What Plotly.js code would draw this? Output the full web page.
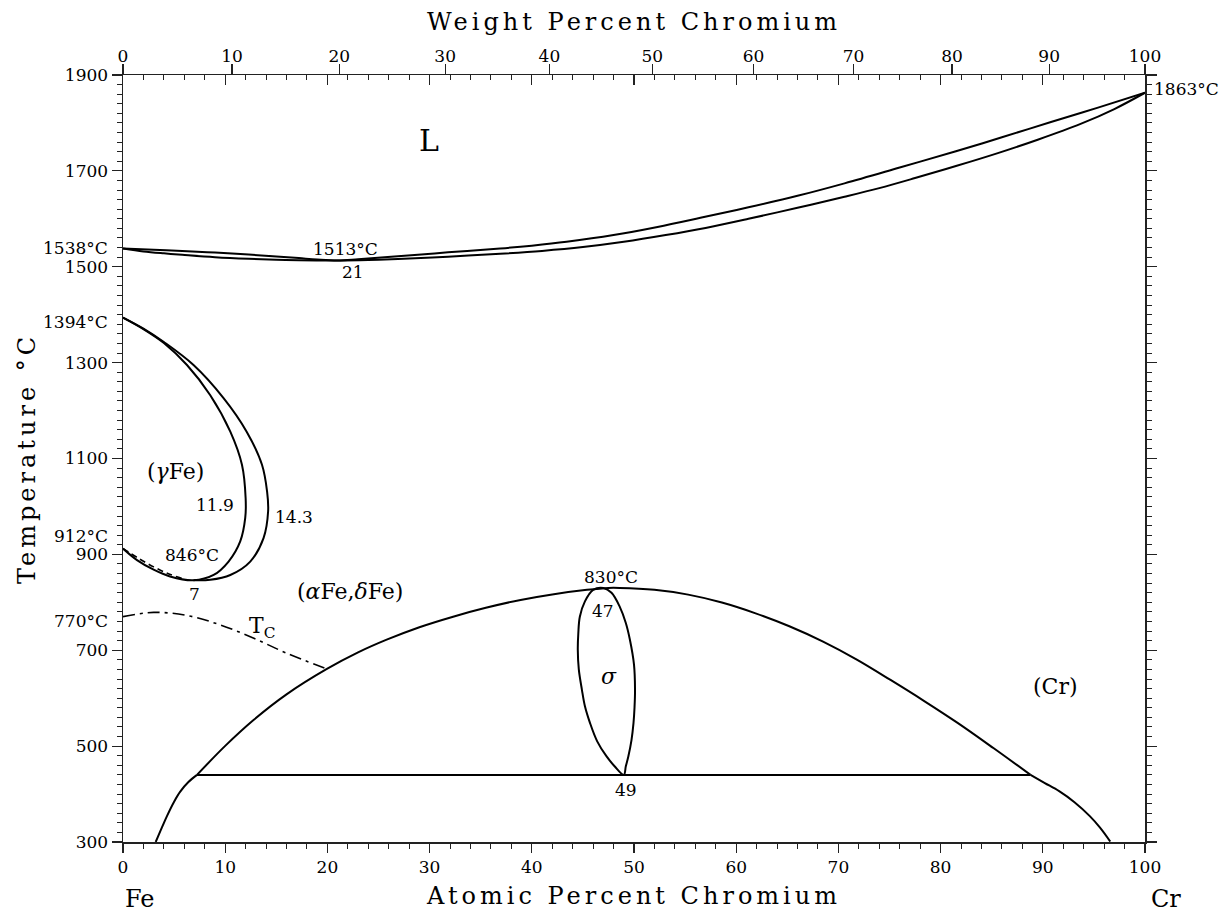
<!DOCTYPE html>
<html>
<head>
<meta charset="utf-8">
<script src="https://cdn.plot.ly/plotly-3.0.1.min.js"></script>
<style>
  html, body { margin: 0; padding: 0; background: #fff; }
  #chart { width: 1223px; height: 912px; }
  text.xtitle, text.x3title, text.ytitle { letter-spacing: 4px; }
</style>
</head>
<body>
<div id="chart"></div>
<script>
// ---- Data (atomic % Cr, temperature °C) ----
const liquidusX = [0, 3, 5.8, 9, 12.3, 15, 17.2, 19, 21, 23, 26.9, 31.8, 36.9, 40, 43.4, 48, 52.3, 56.5, 61.2, 66, 70.6, 76, 81.5, 86, 90.8, 95.4, 100];
const liquidusT = [1538, 1535.5, 1533, 1529.5, 1525.5, 1521.5, 1518, 1515, 1513, 1515.5, 1522, 1530, 1538, 1544, 1552, 1566, 1583, 1602, 1624, 1648, 1674, 1707, 1741, 1770, 1802, 1832, 1863];
const solidusX = [0, 2, 4, 5.8, 9, 12.3, 15, 17.2, 21, 24, 26.9, 31.8, 36.9, 41, 45, 49, 53.1, 57, 61.2, 66, 70.6, 74, 77.5, 81.5, 85.6, 89.5, 93.7, 97, 100];
const solidusT = [1538, 1532, 1528, 1525, 1520, 1516.5, 1514.5, 1513.5, 1513, 1514, 1516, 1521, 1527, 1533, 1541, 1552, 1566, 1581, 1600, 1623, 1646, 1664, 1685, 1710, 1737, 1765, 1798, 1829, 1863];

const gammaInnerX = [0, 2, 4, 6.26, 8.54, 10.5, 11.64, 12.0, 11.96, 11.47, 10.33, 8.87, 6.9, 4.6, 3.0, 1.37, 0];
const gammaInnerT = [1394, 1370, 1341, 1295, 1232, 1156, 1087, 1017, 976, 927, 885, 857, 846, 854, 868, 888, 912];
const gammaOuterX = [0, 2, 4, 6.9, 9.84, 12.1, 13.6, 14.1, 14.2, 13.75, 12.45, 10.5, 8.54, 6.9];
const gammaOuterT = [1394, 1371, 1343, 1295, 1226, 1156, 1087, 1031, 990, 934, 885, 857, 847, 846];
const alphaDashX = [0, 1.5, 3.0, 4.5, 5.8];
const alphaDashT = [912, 892, 874, 859, 850];

const curieX = [0, 3.0, 6.26, 9.5, 12.8, 16.0, 19.95];
const curieT = [770, 779, 772.5, 753, 725, 694, 661];

// (alphaFe,deltaFe)/(Cr) miscibility dome, split at the 440 °C eutectoid
const domeLowLeftX = [3.2, 3.8, 4.3, 5.0, 5.6, 6.4, 7.24];
const domeLowLeftT = [300, 330, 354, 384, 405, 425, 440];
const domeX = [7.24, 10, 12.8, 16, 19.95, 23, 25.8, 29, 32.3, 35.5, 38.9, 42, 45.4, 47.5, 48.6, 52, 55.3, 58.6, 61.9, 65.2, 68.5, 71.8, 75.1, 78.4, 81.7, 85.2, 88.8];
const domeT = [440, 500.5, 555, 608, 661, 695.5, 722, 748, 770, 788.5, 805, 816.5, 826, 830, 830, 826, 816, 799.5, 777, 750, 718, 680.5, 638, 594, 548, 495.5, 440];
const domeLowRightX = [88.8, 90.2, 91.6, 93.1, 94.6, 95.6, 96.6];
const domeLowRightT = [440, 423, 406, 383, 354, 330, 301];

const sigmaX = [49, 48.1, 47.3, 46.4, 45.7, 45.2, 44.9, 44.6, 44.5, 44.55, 44.7, 45.2, 46.0, 47.0, 47.8, 48.6, 49.2, 49.6, 50.0, 50.1, 50.05, 49.95, 49.75, 49.45, 49.2, 49];
const sigmaT = [440, 458, 479, 510, 548, 583, 618, 660, 701, 735, 770, 802, 826, 830, 820, 791, 757, 722, 670, 618, 580, 548, 512, 479, 458, 440];

const eutectoidX = [7.24, 88.8];
const eutectoidT = [440, 440];

// Weight-percent tick labels (top axis), placed via at.% conversion
const wtTicks = [0, 10, 20, 30, 40, 50, 60, 70, 80, 90, 100];
const M_Cr = 51.996, M_Fe = 55.845;
function wtToAt(w) {
  if (w <= 0) return 0;
  if (w >= 100) return 100;
  const a = w / M_Cr, b = (100 - w) / M_Fe;
  return 100 * a / (a + b);
}

const FONT = "DejaVu Serif";
const black = "#000";

function line(x, y, extra) {
  return Object.assign({
    x: x, y: y, type: "scatter", mode: "lines",
    line: { color: black, width: 2, shape: "spline", smoothing: 1 },
    hoverinfo: "skip", showlegend: false, cliponaxis: true
  }, extra || {});
}

const traces = [
  line(liquidusX, liquidusT),
  line(solidusX, solidusT),
  line(gammaInnerX, gammaInnerT),
  line(gammaOuterX, gammaOuterT),
  line(alphaDashX, alphaDashT, { line: { color: black, width: 1.6, dash: "6px,4px", shape: "spline", smoothing: 1 } }),
  line(curieX, curieT, { line: { color: black, width: 1.6, dash: "12px,5px,3px,5px", shape: "spline", smoothing: 1 } }),
  line(domeLowLeftX, domeLowLeftT),
  line(domeX, domeT),
  line(domeLowRightX, domeLowRightT),
  line(sigmaX, sigmaT),
  line(eutectoidX, eutectoidT, { line: { color: black, width: 2 } }),
  // carriers for the top axes
  { x: [0, 100], y: [300, 1900], xaxis: "x2", yaxis: "y", type: "scatter", mode: "lines",
    line: { width: 0, color: "rgba(0,0,0,0)" }, hoverinfo: "skip", showlegend: false },
  { x: [0, 100], y: [300, 1900], xaxis: "x3", yaxis: "y", type: "scatter", mode: "lines",
    line: { width: 0, color: "rgba(0,0,0,0)" }, hoverinfo: "skip", showlegend: false }
];

const tickFont = { family: FONT, size: 17, color: black };
const axColor = "#222";

function ann(text, x, y, size, extra) {
  return Object.assign({
    text: text, x: x, y: y, xref: "x", yref: "y", showarrow: false,
    font: { family: FONT, size: size || 17, color: black },
    xanchor: "center", yanchor: "middle"
  }, extra || {});
}

const annotations = [
  ann("L", 29.9, 1764, 30),
  ann("1513°C", 21.8, 1536),
  ann("21", 22.5, 1490),
  ann("1538°C", -0.0125, 1540, 17, { xref: "paper", xanchor: "right" }),
  ann("1394°C", -0.0125, 1384, 17, { xref: "paper", xanchor: "right" }),
  ann("912°C", -0.0125, 939, 17, { xref: "paper", xanchor: "right" }),
  ann("770°C", -0.0125, 762, 17, { xref: "paper", xanchor: "right" }),
  ann("1863°C", 1.0065, 1870, 17, { xref: "paper", xanchor: "left" }),
  ann("(<i>γ</i>Fe)", 5.17, 1072, 22),
  ann("11.9", 9.03, 1003),
  ann("14.3", 16.7, 977),
  ann("846°C", 6.75, 899),
  ann("7", 6.97, 817),
  ann("(<i>α</i>Fe,<i>δ</i>Fe)", 22.2, 822, 22),
  ann("T<sub>C</sub>", 13.6, 748, 22),
  ann("830°C", 47.75, 852),
  ann("47", 47.0, 781),
  ann("<i>σ</i>", 47.6, 646, 22),
  ann("49", 49.2, 409),
  ann("(Cr)", 91.2, 625, 22),
  ann("Fe", 0.0166, -0.074, 24, { xref: "paper", yref: "paper" }),
  ann("Cr", 1.0205, -0.074, 24, { xref: "paper", yref: "paper" })
];

const layout = {
  width: 1223, height: 912,
  margin: { l: 123, r: 78, t: 75, b: 70, pad: 0 },
  paper_bgcolor: "#fff", plot_bgcolor: "#fff",
  showlegend: false,
  font: { family: FONT, size: 17, color: black },
  xaxis: {
    range: [0, 100], autorange: false, fixedrange: true,
    tick0: 0, dtick: 10, ticks: "outside", ticklen: 9, tickwidth: 1.2, tickcolor: axColor,
    minor: { dtick: 2, ticks: "outside", ticklen: 5, tickwidth: 1, tickcolor: axColor, showgrid: false },
    showline: true, linecolor: axColor, linewidth: 1.5, mirror: false,
    showgrid: false, zeroline: false, tickfont: tickFont,
    title: { text: "Atomic Percent Chromium", font: { family: FONT, size: 24, color: black }, standoff: 11 }
  },
  xaxis2: {
    overlaying: "x", side: "top", anchor: "y",
    range: [0, 100], autorange: false, fixedrange: true,
    tick0: 0, dtick: 10, ticks: "inside", ticklen: 10, tickwidth: 1.2, tickcolor: axColor,
    minor: { dtick: 2, ticks: "inside", ticklen: 5, tickwidth: 1, tickcolor: axColor, showgrid: false },
    showticklabels: false, showline: true, linecolor: axColor, linewidth: 1.5,
    showgrid: false, zeroline: false
  },
  xaxis3: {
    overlaying: "x", side: "top", anchor: "y",
    range: [0, 100], autorange: false, fixedrange: true,
    tickmode: "array", tickvals: wtTicks.map(wtToAt), ticktext: wtTicks.map(String),
    ticks: "outside", ticklen: 10, tickwidth: 1.2, tickcolor: axColor, ticklabelstandoff: -5,
    showline: false, showgrid: false, zeroline: false, tickfont: tickFont,
    title: { text: "Weight Percent Chromium", font: { family: FONT, size: 24, color: black }, standoff: 8 }
  },
  yaxis: {
    range: [300, 1900], autorange: false, fixedrange: true,
    tick0: 300, dtick: 200, ticks: "outside", ticklen: 10, tickwidth: 1.2, tickcolor: axColor,
    minor: { dtick: 20, ticks: "outside", ticklen: 5, tickwidth: 1, tickcolor: axColor, showgrid: false },
    showline: true, linecolor: axColor, linewidth: 1.5, mirror: "ticks",
    showgrid: false, zeroline: false, tickfont: tickFont,
    title: { text: "Temperature °C", font: { family: FONT, size: 24, color: black }, standoff: 22 }
  },
  annotations: annotations
};

Plotly.newPlot("chart", traces, layout, { staticPlot: true, displayModeBar: false });
</script>
</body>
</html>
